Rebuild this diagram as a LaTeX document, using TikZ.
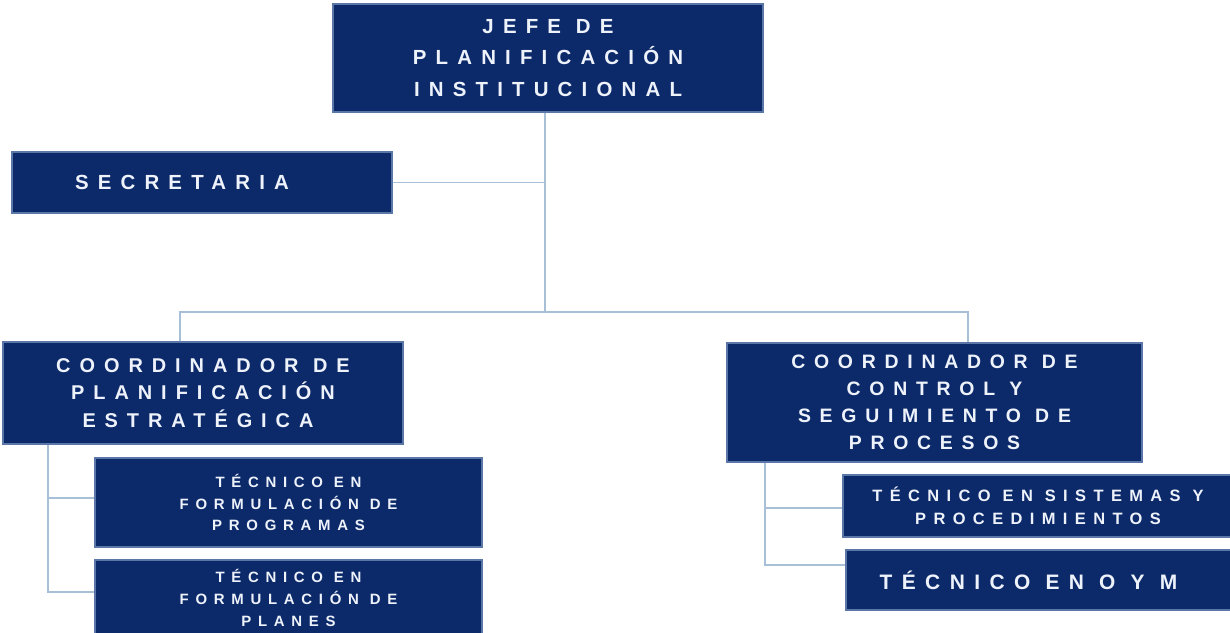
\documentclass[tikz,border=0pt]{standalone}
\usepackage{fontspec}
\newfontfamily\boxfont[LetterSpace=45]{Liberation Sans}
\definecolor{navy}{HTML}{0C2A6A}
\definecolor{edge}{HTML}{5A77A8}
\definecolor{linec}{HTML}{A8BFD8}
\definecolor{txt}{HTML}{EEF2FA}
\tikzset{
  box/.style={fill=navy, draw=edge, line width=1.2bp, text=txt, align=center, inner sep=0pt,
              font=\boxfont\bfseries},
  big/.style={font=\boxfont\bfseries\fontsize{20.5}{32}\selectfont},
  mid/.style={font=\boxfont\bfseries\fontsize{20}{27.5}\selectfont},
  small/.style={font=\boxfont\bfseries\fontsize{15}{22}\selectfont},
  conn/.style={draw=linec, line width=1.6bp}
}
\begin{document}
\begin{tikzpicture}[x=1bp,y=-1bp]
\useasboundingbox (0,0) rectangle (1230,633);
% nodes
\node[box,big,minimum width=430bp,minimum height=108bp] (jefe) at (548,58)
  {JEFE DE\\PLANIFICACIÓN\\INSTITUCIONAL};
\node[box,big,minimum width=380bp,minimum height=61bp] (sec) at (202,182.5)
  {SECRETARIA\hspace*{40bp}};
\node[box,mid,minimum width=400bp,minimum height=102bp] (lc) at (203,393)
  {COORDINADOR DE\\PLANIFICACIÓN\\ESTRATÉGICA\hspace*{10bp}};
\node[box,font=\boxfont\bfseries\fontsize{19.5}{27}\selectfont,minimum width=415bp,minimum height=119bp] (rc) at (934.5,402.5)
  {COORDINADOR DE\\CONTROL Y\\SEGUIMIENTO DE\\PROCESOS};
\node[box,small,minimum width=387bp,minimum height=89bp] (t1) at (288.5,502.5)
  {TÉCNICO EN\\FORMULACIÓN DE\\PROGRAMAS};
\node[box,small,minimum width=387bp,minimum height=76bp] (t2) at (288.5,598)
  {TÉCNICO EN\\FORMULACIÓN DE\\PLANES};
\node[box,font=\boxfont\bfseries\fontsize{16.5}{23}\selectfont,minimum width=390bp,minimum height=62bp] (ts) at (1038,506)
  {TÉCNICO EN SISTEMAS Y\\PROCEDIMIENTOS};
\node[box,font=\boxfont\bfseries\fontsize{21}{24}\selectfont,minimum width=387bp,minimum height=60bp] (to) at (1039.5,580)
  {TÉCNICO EN O Y M\hspace*{22bp}};
% coordinates
\coordinate (hub) at (545,312);
\coordinate (hl) at (180,312);
\coordinate (hr) at (968,312);
\coordinate (vl) at (48,0);
\coordinate (vr) at (765,0);
\coordinate (b1) at (0,498);
\coordinate (b2) at (0,592);
\coordinate (b3) at (0,508);
\coordinate (b4) at (0,565);
% connectors
\draw[conn] (jefe.south -| hub) -- (hub);
\draw[conn] (sec.east) -- (sec.east -| hub);
\draw[conn] (lc.north -| hl) -- (hl) -- (hr) -- (rc.north -| hr);
\draw[conn] (lc.south -| vl) -- (vl |- b2) -- (t2.west |- b2);
\draw[conn] (vl |- b1) -- (t1.west |- b1);
\draw[conn] (rc.south -| vr) -- (vr |- b4) -- (to.west |- b4);
\draw[conn] (vr |- b3) -- (ts.west |- b3);
\end{tikzpicture}
\end{document}
